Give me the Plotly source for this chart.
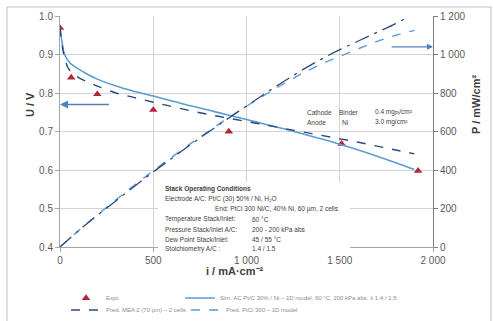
import plotly.graph_objects as go

# ---- data -------------------------------------------------------------
# measured polarization points
i_expt = [0, 60, 200, 500, 905, 1510, 1920]
u_expt = [0.969, 0.840, 0.797, 0.756, 0.700, 0.668, 0.598]

# model current densities (mA/cm²)
i_model = [0, 10, 25, 50, 100, 150, 200, 300, 400, 500, 600, 700, 800, 900,
           1000, 1100, 1200, 1300, 1400, 1500, 1600, 1700, 1800, 1900]

# cell voltage, simulation (solid) and prediction (dashed)
u_sim = [0.970, 0.935, 0.900, 0.880, 0.862, 0.848, 0.836, 0.818, 0.804, 0.792,
         0.779, 0.767, 0.755, 0.743, 0.731, 0.719, 0.707, 0.694, 0.681, 0.667,
         0.652, 0.636, 0.619, 0.601]
u_pred = [0.970, 0.930, 0.890, 0.860, 0.840, 0.828, 0.818, 0.800, 0.788, 0.776,
          0.765, 0.754, 0.744, 0.735, 0.726, 0.717, 0.708, 0.699, 0.690, 0.681,
          0.672, 0.662, 0.652, 0.642]

# power density curves (mW/cm²)
i_pow_sim = [0, 100, 200, 300, 400, 500, 600, 700, 800, 900, 1000, 1100, 1200,
             1300, 1400, 1500, 1600, 1700, 1800, 1900]
p_sim = [0, 86, 167, 245, 322, 396, 467, 537, 604, 669, 731, 791, 848, 902,
         950, 990, 1030, 1068, 1100, 1125]
i_pow_pred = [0, 100, 200, 300, 400, 500, 600, 700, 800, 900, 1000, 1100, 1200,
              1300, 1400, 1500, 1600, 1700, 1800, 1870]
p_pred = [0, 85, 164, 240, 316, 390, 461, 532, 600, 667, 732, 797, 860, 920,
          975, 1025, 1070, 1115, 1160, 1197]

x_ticks = [0, 500, 1000, 1500, 2000]
u_ticks = [0.4, 0.5, 0.6, 0.7, 0.8, 0.9, 1.0]
p_ticks = [0, 200, 400, 600, 800, 1000, 1200]

# operating conditions table rows: (label, value)
cond_title = "Stack Operating Conditions"
cond_electrode = "Electrode A/C: Pt/C (30) 50% / Ni, H₂O"
cond_end = "End: PtCl 300 Ni/C, 40% Ni, 60 µm, 2 cells"
cond_rows = [
    ("Temperature Stack/Inlet:", "60 °C"),
    ("Pressure Stack/Inlet A/C:", "200 - 200 kPa abs"),
    ("Dew Point Stack/Inlet:", "45 / 55 °C"),
    ("Stoichiometry A/C :", "1.4 / 1.5"),
]

# ---- geometry helpers --------------------------------------------------
W, H = 493, 321
L, R, T, B = 60, 433, 16, 247


def px(x):
    return (x - L) / (R - L)


def py(y):
    return (B - y) / (B - T)


LIGHT = "#5b9bd5"
DARK = "#2b4a7c"
RED = "#b0283a"
GRID = "#d3d3d3"
TICK = "#595959"
FONT = "Liberation Sans"

fig = go.Figure()

fig.add_trace(go.Scatter(
    x=i_expt, y=u_expt, mode="markers", name="Expt.",
    marker=dict(symbol="triangle-up", size=7.5, color=RED),
    legend="legend"))
fig.add_trace(go.Scatter(
    x=i_model, y=u_sim, mode="lines", line=dict(color=LIGHT, width=1.6),
    name="Sim. AC Pt/C 30% / Ni – 1D model, 60 °C, 200 kPa abs, λ 1.4 / 1.5",
    legend="legend2", line_shape="spline"))
fig.add_trace(go.Scatter(
    x=i_model, y=u_pred, mode="lines",
    line=dict(color=DARK, width=1.4, dash="dash"),
    name="Pred. MEA 2 (70 µm) – 2 cells", legend="legend3",
    legendgroup="pred", line_shape="spline"))
fig.add_trace(go.Scatter(
    x=i_pow_sim, y=p_sim, mode="lines", yaxis="y2",
    line=dict(color=LIGHT, width=1.4, dash="dash"),
    name="Pred. PtCl 300 – 1D model", legend="legend4", line_shape="spline"))
fig.add_trace(go.Scatter(
    x=i_pow_pred, y=p_pred, mode="lines", yaxis="y2",
    line=dict(color=DARK, width=1.3, dash="longdashdot"),
    name="Pred. P", showlegend=False, legendgroup="pred", line_shape="spline"))

axis_common = dict(
    showline=True, linecolor="#a6a6a6", linewidth=1, ticks="outside",
    ticklen=4, tickcolor="#a6a6a6", zeroline=False,
    tickfont=dict(family=FONT, size=10, color=TICK))

leg_font = dict(family=FONT, size=6, color="#8c8c8c")


def leg(x, y):
    return dict(orientation="h", x=px(x), y=py(y), xanchor="left",
                yanchor="middle", font=leg_font, bgcolor="rgba(0,0,0,0)",
                itemwidth=30)


fig.update_layout(
    width=W, height=H,
    margin=dict(l=L, r=W - R, t=T, b=H - B, autoexpand=False),
    paper_bgcolor="white", plot_bgcolor="white", separators=". ",
    font=dict(family=FONT),
    xaxis=dict(range=[0, 2000], tickvals=x_ticks, tickformat=",d",
               showgrid=True, gridcolor=GRID, **axis_common),
    yaxis=dict(range=[0.4, 1.0], tickvals=u_ticks, tickformat=".1f",
               showgrid=True, gridcolor=GRID, **axis_common),
    yaxis2=dict(range=[0, 1200], tickvals=p_ticks, tickformat=",d",
                overlaying="y", side="right", showgrid=False,
                showline=True, linecolor="#7f7f7f", ticks="outside",
                ticklen=4, tickcolor="#7f7f7f", zeroline=False,
                tickfont=dict(family=FONT, size=10, color=TICK)),
    legend=leg(66, 298),
    legend2=leg(180, 298),
    legend3=leg(66, 310),
    legend4=leg(186, 310),
    showlegend=True,
)

shapes = []
# chart frame
shapes.append(dict(type="rect", xref="paper", yref="paper",
                   x0=px(7), x1=px(491), y0=py(330), y1=py(7),
                   line=dict(color="#bfbfbf", width=1), layer="below"))
# white panel behind the operating-conditions table
shapes.append(dict(type="rect", xref="paper", yref="paper",
                   x0=px(158), x1=px(350), y0=py(253), y1=py(182),
                   fillcolor="white", line=dict(width=0), layer="above"))
fig.update_layout(shapes=shapes)

ann = []
# axis titles
ann.append(dict(text="<b>U / V</b>", xref="paper", yref="paper", x=px(22),
                y=py(105), textangle=-90, showarrow=False,
                font=dict(family=FONT, size=11, color="#404040")))
ann.append(dict(text="<b>P / mW/cm²</b>", xref="paper", yref="paper",
                x=px(484), y=py(105), textangle=-90, showarrow=False,
                font=dict(family=FONT, size=11, color="#404040")))
ann.append(dict(text="<b>i / mA·cm⁻²</b>", xref="paper", yref="paper",
                x=px(235), y=py(279), showarrow=False,
                font=dict(family=FONT, size=11, color="#404040")))

# arrows pointing at the relevant axes
ann.append(dict(x=0, y=0.77, ax=270, ay=0.77, xref="x", yref="y",
                axref="x", ayref="y", text="", showarrow=True, arrowhead=2,
                arrowsize=1, arrowwidth=1.6, arrowcolor="#4f81bd"))
ann.append(dict(x=2000, y=1040, ax=1770, ay=1040, xref="x", yref="y2",
                axref="x", ayref="y2", text="", showarrow=True, arrowhead=2,
                arrowsize=1, arrowwidth=1.2, arrowcolor="#4f81bd"))

small = dict(family=FONT, size=6.5, color="#404040")


def note(text, x, y, bold=False):
    return dict(text=f"<b>{text}</b>" if bold else text, xref="paper",
                yref="paper", x=px(x), y=py(y), xanchor="left",
                yanchor="middle", showarrow=False, font=small)


# catalyst loading note
ann.append(note("Cathode", 305, 112))
ann.append(note("Binder", 337, 112))
ann.append(note("0.4 mg<sub>Pt</sub>/cm²", 373, 112))
ann.append(note("Anode", 305, 122))
ann.append(note("Ni", 340, 122))
ann.append(note("3.0 mg/cm²", 373, 122))

# operating conditions table
ann.append(note(cond_title, 163, 189, bold=True))
ann.append(note(cond_electrode, 163, 199))
ann.append(note(cond_end, 213, 209))
for k, (lab, val) in enumerate(cond_rows):
    yy = 219 + k * 10
    ann.append(note(lab, 163, yy))
    ann.append(note(val, 250, yy))
fig.update_layout(annotations=ann)

fig.write_html("out.html")
